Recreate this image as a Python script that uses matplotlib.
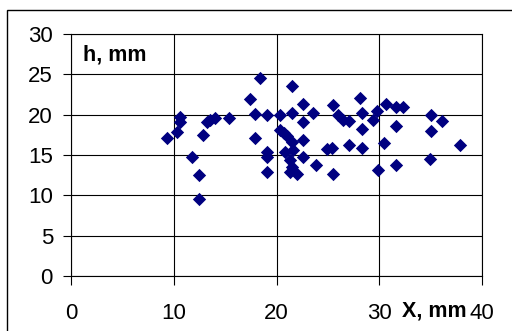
import matplotlib.pyplot as plt
from matplotlib.patches import Rectangle

plt.rcParams['font.family'] = ['Liberation Sans', 'DejaVu Sans']

# x and h values (mm)
xVals = [9.3, 10.3, 10.6, 10.6, 11.8, 12.45, 12.45, 12.8, 13.2, 13.5, 14.0, 15.4,
         17.4, 17.9, 17.9, 18.4, 19.1, 19.1, 19.1, 19.1,
         20.3, 20.3, 20.7, 21.0, 21.5, 21.5, 21.5, 20.8, 21.6, 21.3, 21.5, 21.3, 22.0,
         22.6, 22.6, 22.6, 22.6, 23.6, 23.8, 24.9, 25.4, 25.5, 25.5,
         26.0, 26.5, 27.1, 27.1, 28.1, 28.3, 28.3, 28.35,
         29.4, 29.8, 29.9, 30.5, 30.65, 31.6, 31.6, 31.6, 32.3,
         35.0, 35.0, 34.9, 36.1, 37.9]
hVals = [17.1, 17.8, 19.7, 19.1, 14.8, 12.5, 9.5, 17.5, 19.1, 19.3, 19.6, 19.6,
         22.0, 20.1, 17.1, 24.6, 19.9, 15.4, 14.7, 12.9,
         20.0, 18.1, 17.7, 17.3, 23.6, 20.2, 16.6, 15.4, 15.6, 14.4, 13.5, 12.9, 12.7,
         21.3, 19.1, 16.9, 14.8, 20.2, 13.7, 15.8, 15.9, 21.2, 12.7,
         19.9, 19.3, 19.2, 16.2, 22.1, 20.2, 18.2, 15.9,
         19.4, 20.4, 13.1, 16.5, 21.3, 20.9, 18.6, 13.7, 20.9,
         19.9, 18.0, 14.5, 19.2, 16.2]

xTicks = [0, 10, 20, 30, 40]
yTicks = [0, 5, 10, 15, 20, 25, 30]

fig = plt.figure(figsize=(5.12, 3.31), dpi=100)
ax = fig.add_axes([71 / 512, 1 - 276 / 331, 411 / 512, 242 / 331])

# outer chart frame (cut off at the right and bottom)
fig.patches.append(Rectangle((7 / 512, -0.1), 1.2, 1 - 10 / 331 + 0.1,
                             transform=fig.transFigure, fill=False,
                             edgecolor='black', linewidth=1.0))

ax.scatter(xVals, hVals, marker='D', s=46, color='#000080', linewidths=0, zorder=3)

ax.set_xlim(0, 40)
ax.set_ylim(0, 30)
ax.set_xticks(xTicks)
ax.set_yticks(yTicks)
ax.grid(True, color='black', linewidth=0.8)
ax.set_axisbelow(True)
for s in ax.spines.values():
    s.set_linewidth(0.8)
ax.tick_params(axis='x', direction='out', length=6.5, pad=13, labelsize=16)
ax.tick_params(axis='y', direction='out', length=6, pad=7, labelsize=16)

ax.text(0.03, 0.955, 'h, mm', transform=ax.transAxes, fontsize=15.5,
        fontweight='bold', va='top', ha='left')
ax.text(467 / 512, 1 - 311 / 331, 'X, mm', transform=fig.transFigure, fontsize=15.5,
        fontweight='bold', va='center', ha='right')

fig.savefig('out.png', dpi=100)
